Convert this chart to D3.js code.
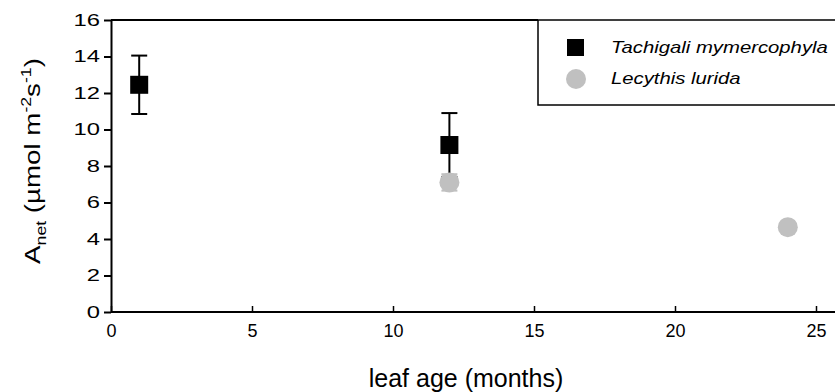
<!DOCTYPE html>
<html>
<head>
<meta charset="utf-8">
<script src="https://cdn.jsdelivr.net/npm/d3@7"></script>
<style>
  body { margin: 0; background: #fff; }
  svg { display: block; font-family: Arial, "Liberation Sans", sans-serif; }
</style>
</head>
<body>
<div class="chart"></div>
<script>
// data
const seriesNames = ["Tachigali mymercophyla", "Lecythis lurida"];
const tachMonths = [1, 12];
const tachAnet = [12.45, 9.15];
const tachErr = [1.6, 1.75];
const lecyMonths = [12, 24];
const lecyAnet = [7.1, 4.65];
const lecyErr = [0.45, 0.2];
const xTicks = [0, 5, 10, 15, 20, 25];
const yTicks = [0, 2, 4, 6, 8, 10, 12, 14, 16];

const W = 835, H = 392;
const grey = "#c0c0c0";

const svg = d3.select(".chart").append("svg")
    .attr("width", W)
    .attr("height", H);

// scales
const x = d3.scaleLinear().domain([0, 25]).range([111, 816]);
const y = d3.scaleLinear().domain([0, 16]).range([312, 20]);

// Y axis, ticks outward (labels are drawn a bit wide in the original)
const yAxis = svg.append("g")
    .attr("transform", "translate(" + x(0) + ",0)")
    .call(d3.axisLeft(y).tickValues(yTicks).tickSizeInner(7).tickSizeOuter(0).tickPadding(4));
yAxis.selectAll("text")
    .style("font-size", "17px").attr("fill", "#000")
    .attr("x", 0)
    .attr("transform", "translate(-11,0) scale(1.4,1)");
yAxis.selectAll("line, path").attr("stroke", "#000").attr("stroke-width", 2);

// X axis, ticks inward
const xAxis = svg.append("g")
    .attr("transform", "translate(0," + y(0) + ")")
    .call(d3.axisBottom(x).tickValues(xTicks).tickSizeInner(-6).tickSizeOuter(0).tickPadding(12));
xAxis.select(".domain").remove();
xAxis.selectAll("text").style("font-size", "18px").attr("fill", "#000");
xAxis.selectAll("line").attr("stroke", "#000").attr("stroke-width", 1.5);

// frame lines: bottom runs to the edge, top up to the legend
svg.append("line")
    .attr("x1", x(0)).attr("x2", W)
    .attr("y1", y(0)).attr("y2", y(0))
    .attr("stroke", "#000").attr("stroke-width", 2);
svg.append("line")
    .attr("x1", x(0)).attr("x2", 538)
    .attr("y1", y(16)).attr("y2", y(16))
    .attr("stroke", "#000").attr("stroke-width", 2);

// error bars helper
const capW = 8;
function errBars(months, vals, errs, color) {
  const g = svg.append("g").attr("stroke", color).attr("stroke-width", 2);
  months.forEach((m, i) => {
    const cx = x(m), hi = y(vals[i] + errs[i]), lo = y(vals[i] - errs[i]);
    g.append("line").attr("x1", cx).attr("x2", cx).attr("y1", hi).attr("y2", lo);
    g.append("line").attr("x1", cx - capW).attr("x2", cx + capW).attr("y1", hi).attr("y2", hi);
    g.append("line").attr("x1", cx - capW).attr("x2", cx + capW).attr("y1", lo).attr("y2", lo);
  });
}

// Tachigali: black squares
errBars(tachMonths, tachAnet, tachErr, "#000");
svg.append("g").selectAll("rect")
    .data(tachMonths)
  .join("rect")
    .attr("x", (d) => x(d) - 9)
    .attr("y", (d, i) => y(tachAnet[i]) - 9)
    .attr("width", 18).attr("height", 18)
    .attr("fill", "#000");

// Lecythis: grey circles
errBars(lecyMonths, lecyAnet, lecyErr, grey);
svg.append("g").selectAll("circle")
    .data(lecyMonths)
  .join("circle")
    .attr("cx", (d) => x(d))
    .attr("cy", (d, i) => y(lecyAnet[i]))
    .attr("r", 10)
    .attr("fill", grey);

// legend
svg.append("rect")
    .attr("x", 538).attr("y", 20)
    .attr("width", 310).attr("height", 85)
    .attr("fill", "#fff").attr("stroke", "#000").attr("stroke-width", 1.5);
svg.append("rect")
    .attr("x", 567).attr("y", 39).attr("width", 17).attr("height", 17)
    .attr("fill", "#000");
svg.append("circle")
    .attr("cx", 576).attr("cy", 79).attr("r", 10)
    .attr("fill", grey);
seriesNames.forEach((name, i) => {
  svg.append("text")
      .attr("transform", "translate(611," + (53 + i * 31) + ") scale(1.23,1)")
      .style("font-size", "16.5px")
      .style("font-style", "italic")
      .text(name);
});

// axis titles
svg.append("text")
    .attr("x", 466).attr("y", 387)
    .attr("text-anchor", "middle")
    .style("font-size", "25px")
    .text("leaf age (months)");

const yl = svg.append("text")
    .attr("transform", "translate(40,161) rotate(-90) scale(1.26,1)")
    .attr("text-anchor", "middle")
    .style("font-size", "22px");
yl.append("tspan").text("A");
yl.append("tspan").attr("dy", 6).style("font-size", "14px").text("net");
yl.append("tspan").attr("dy", -6).text(" (µmol m");
yl.append("tspan").attr("dy", -9).style("font-size", "14px").text("-2");
yl.append("tspan").attr("dy", 9).text("s");
yl.append("tspan").attr("dy", -9).style("font-size", "14px").text("-1");
yl.append("tspan").attr("dy", 9).text(")");
</script>
</body>
</html>
